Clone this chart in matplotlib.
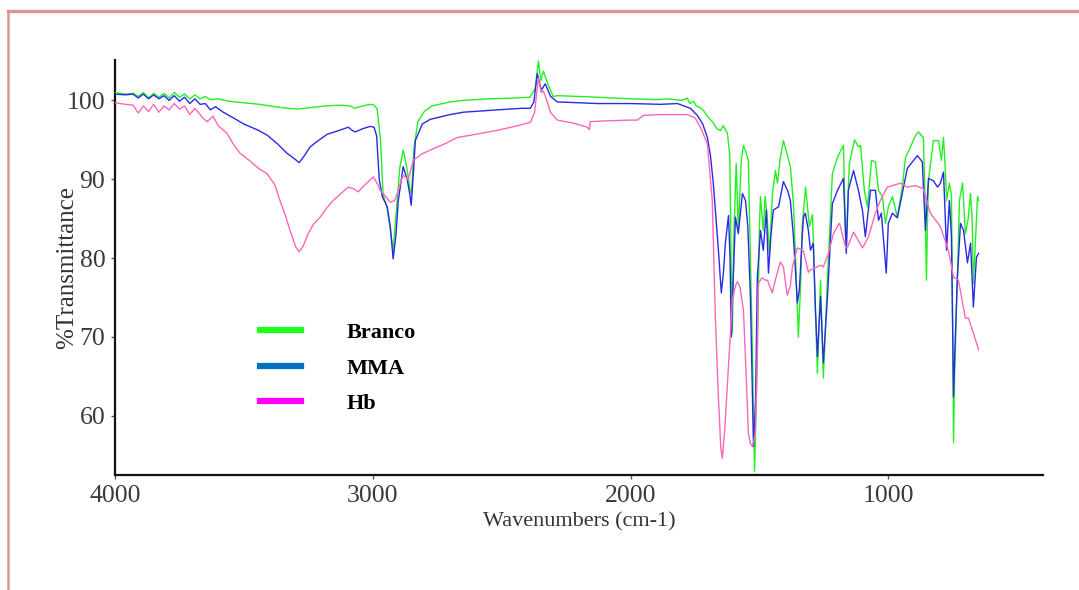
import matplotlib
matplotlib.use("Agg")
import matplotlib.pyplot as plt
from matplotlib.lines import Line2D

# ---------------------------------------------------------------------------
# FTIR spectra (wavenumber cm-1, %T)
# ---------------------------------------------------------------------------

branco_wn = [
    4000, 3960, 3930, 3910, 3890, 3870, 3850, 3830, 3810, 3790, 3770, 3750,
    3730, 3710, 3690, 3670, 3650, 3630, 3600, 3560, 3500, 3440, 3380, 3330,
    3290, 3240, 3180, 3130, 3090, 3070, 3040, 3010, 2995, 2983, 2970, 2960,
    2945, 2930, 2921, 2910, 2895, 2882, 2868, 2855, 2850, 2840, 2825, 2800,
    2770, 2700, 2650, 2550, 2450, 2390, 2370, 2357, 2348, 2338, 2320, 2300,
    2284, 2200, 2129, 2000, 1900, 1857, 1800, 1780, 1770, 1756, 1745, 1730,
    1717, 1700, 1680, 1665, 1651, 1640, 1624, 1615, 1610, 1605, 1600, 1590,
    1582, 1570, 1562, 1550, 1543, 1535, 1527, 1519, 1512, 1508, 1500, 1496,
    1485, 1478, 1472, 1461, 1450, 1438, 1430, 1420, 1407, 1395, 1380, 1368,
    1357, 1349, 1341, 1334, 1321, 1306, 1294, 1283, 1275, 1263, 1252, 1236,
    1217, 1197, 1174, 1166, 1163, 1151, 1131, 1116, 1108, 1093, 1081, 1065,
    1050, 1038, 1023, 1011, 1000, 984, 965, 946, 933, 914, 895, 883, 870,
    864, 858, 852, 848, 844, 825, 805, 794, 786, 780, 774, 763, 755, 750,
    747, 743, 732, 724, 712, 701, 690, 681, 675, 670, 662, 654, 650,
]
branco_t = [
    101.0, 100.8, 100.9, 100.5, 101.0, 100.3, 100.9, 100.4, 100.9, 100.3, 101.0, 100.4,
    100.8, 100.2, 100.7, 100.2, 100.5, 100.1, 100.2, 99.9, 99.7, 99.5, 99.2, 99.0,
    98.9, 99.1, 99.3, 99.4, 99.3, 99.0, 99.3, 99.5, 99.4, 98.9, 95.0, 88.0,
    86.5, 83.0, 81.0, 85.5, 91.5, 93.7, 91.5, 88.5, 88.2, 94.0, 97.3, 98.6,
    99.3, 99.8, 100.0, 100.2, 100.3, 100.4, 101.5, 105.0, 102.5, 103.7, 102.0, 100.5,
    100.6, 100.5, 100.4, 100.2, 100.1, 100.2, 100.0, 100.3, 99.6, 99.9, 99.3, 99.1,
    98.7, 97.9, 97.2, 96.4, 96.2, 96.8, 95.8, 93.0, 80.0, 70.5, 82.0, 92.0,
    83.5, 92.5, 94.3, 93.2, 92.4, 80.0, 68.0, 52.9, 62.0, 68.0, 84.0, 87.8,
    83.5, 87.8, 86.0, 80.6, 88.0, 91.1, 89.5, 92.5, 94.9, 93.5, 91.6, 86.9,
    77.6, 70.0, 76.0, 84.0, 89.0, 84.0, 85.5, 73.4, 65.4, 77.2, 64.8, 77.6,
    90.7, 92.8, 94.3, 83.0, 82.3, 92.0, 95.0, 94.1, 94.3, 88.6, 86.5, 92.4,
    92.2, 88.6, 87.8, 84.4, 86.5, 87.8, 85.2, 89.0, 92.8, 94.1, 95.5, 96.0, 95.5,
    95.3, 88.0, 77.2, 85.0, 89.9, 94.9, 94.9, 92.4, 95.3, 92.0, 87.3, 89.5, 88.0, 70.0,
    56.6, 65.0, 77.6, 87.3, 89.5, 83.1, 85.0, 88.2, 85.0, 76.8, 82.0, 87.8, 87.3,
]

mma_wn = [
    4000, 3960, 3930, 3910, 3890, 3870, 3850, 3830, 3810, 3790, 3770, 3750,
    3730, 3710, 3690, 3670, 3650, 3630, 3610, 3580, 3542, 3500, 3450, 3410,
    3370, 3333, 3300, 3286, 3265, 3243, 3216, 3177, 3130, 3095, 3080, 3068,
    3040, 3010, 2995, 2985, 2975, 2963, 2944, 2932, 2921, 2910, 2901, 2882,
    2866, 2856, 2851, 2842, 2835, 2808, 2777, 2700, 2649, 2517, 2420, 2389,
    2375, 2362, 2346, 2331, 2310, 2284, 2200, 2129, 2000, 1884, 1818, 1768,
    1741, 1720, 1702, 1690, 1679, 1659, 1648, 1640, 1632, 1620, 1614, 1609,
    1603, 1593, 1582, 1566, 1554, 1545, 1535, 1523, 1515, 1508, 1496, 1485,
    1473, 1465, 1455, 1446, 1426, 1407, 1390, 1380, 1368, 1353, 1345, 1334,
    1329, 1322, 1310, 1302, 1291, 1283, 1275, 1263, 1252, 1236, 1217, 1197,
    1174, 1163, 1155, 1135, 1116, 1100, 1089, 1069, 1050, 1038, 1027, 1008,
    1000, 984, 965, 946, 926, 887, 868, 856, 844, 825, 809, 798, 786, 774,
    763, 755, 747, 740, 732, 720, 708, 693, 681, 670, 658, 650,
]
mma_t = [
    100.8, 100.7, 100.8, 100.3, 100.8, 100.2, 100.7, 100.2, 100.6, 100.0, 100.6, 99.9,
    100.4, 99.6, 100.2, 99.5, 99.6, 98.8, 99.2, 98.5, 97.8, 97.0, 96.3, 95.6,
    94.5, 93.3, 92.5, 92.1, 93.0, 94.1, 94.8, 95.7, 96.2, 96.6, 96.2, 96.0,
    96.4, 96.7, 96.6, 95.5, 90.0, 87.8, 86.5, 84.0, 79.9, 83.0, 87.3, 91.6,
    89.9, 88.0, 86.7, 91.0, 94.9, 97.0, 97.6, 98.2, 98.5, 98.8, 99.0, 99.0,
    99.8, 103.4, 101.3, 102.1, 100.5, 99.8, 99.7, 99.6, 99.6, 99.5, 99.6, 99.0,
    98.1, 97.0, 95.3, 93.0, 89.5, 81.0, 75.6, 78.0, 81.9, 85.4, 80.0, 70.0,
    76.0, 85.2, 83.1, 88.2, 87.3, 84.0, 75.1, 56.1, 62.0, 77.6, 83.5, 81.0,
    86.1, 78.1, 83.0, 86.1, 86.5, 89.7, 88.5, 87.3, 82.7, 74.3, 76.0, 82.7,
    85.2, 85.7, 83.5, 81.0, 81.9, 73.8, 67.5, 75.1, 66.7, 75.1, 86.9, 88.6,
    90.1, 80.6, 88.6, 91.1, 88.6, 86.0, 82.7, 88.6, 88.6, 84.8, 85.7, 78.1,
    84.4, 85.7, 85.1, 88.2, 91.4, 93.0, 92.2, 83.5, 90.1, 89.8, 89.0, 89.5, 90.9, 81.0,
    87.3, 82.7, 62.4, 70.0, 77.6, 84.4, 83.5, 79.4, 81.9, 73.8, 80.1, 80.6,
]

hb_wn = [
    4000, 3960, 3930, 3910, 3890, 3870, 3850, 3830, 3810, 3790, 3770, 3750,
    3730, 3710, 3690, 3660, 3643, 3620, 3600, 3565, 3542, 3515, 3476, 3440,
    3410, 3380, 3360, 3340, 3321, 3300, 3286, 3270, 3251, 3230, 3204, 3180,
    3154, 3120, 3095, 3075, 3057, 3030, 2998, 2985, 2971, 2950, 2932, 2915,
    2905, 2890, 2882, 2870, 2863, 2850, 2843, 2810, 2777, 2720, 2672, 2600,
    2517, 2450, 2389, 2372, 2358, 2346, 2338, 2325, 2311, 2284, 2220, 2168,
    2160, 2156, 2100, 2001, 1974, 1950, 1884, 1780, 1750, 1729, 1702, 1683,
    1671, 1660, 1650, 1644, 1635, 1624, 1605, 1593, 1585, 1575, 1562, 1550,
    1543, 1535, 1527, 1516, 1510, 1504, 1490, 1477, 1469, 1450, 1440, 1419,
    1407, 1399, 1392, 1380, 1372, 1353, 1334, 1329, 1310, 1302, 1275, 1263,
    1252, 1232, 1213, 1193, 1189, 1166, 1158, 1135, 1100, 1077, 1050, 1031,
    1004, 953, 926, 895, 864, 837, 798, 767, 747, 728, 701, 689, 670, 650,
]
hb_t = [
    99.7, 99.5, 99.4, 98.4, 99.3, 98.6, 99.5, 98.5, 99.3, 98.8, 99.6, 98.9,
    99.3, 98.2, 99.0, 97.8, 97.3, 98.0, 96.8, 95.8, 94.5, 93.3, 92.3, 91.3,
    90.7, 89.3, 87.3, 85.5, 83.5, 81.5, 80.8, 81.5, 83.1, 84.3, 85.2, 86.3,
    87.3, 88.3, 89.0, 88.8, 88.4, 89.3, 90.3, 89.6, 88.6, 87.8, 87.1, 87.3,
    88.2, 89.8, 90.5, 90.2, 89.9, 91.5, 92.4, 93.2, 93.7, 94.5, 95.3, 95.7,
    96.2, 96.7, 97.2, 98.5, 102.8, 101.0, 101.2, 100.0, 98.5, 97.5, 97.1, 96.6,
    96.3, 97.3, 97.4, 97.5, 97.5, 98.1, 98.2, 98.2, 97.8, 96.6, 94.5, 87.3,
    72.5, 63.0, 56.0, 54.6, 58.0, 64.1, 74.7, 76.5, 77.0, 76.3, 73.4, 64.0,
    57.8, 56.5, 56.1, 57.8, 65.0, 76.8, 77.5, 77.2, 77.2, 75.6, 77.0, 79.5,
    78.9, 77.0, 75.3, 76.5, 78.9, 81.3, 81.0, 80.9, 78.2, 78.5, 78.9, 79.1,
    78.9, 80.6, 83.1, 84.3, 84.4, 81.4, 81.4, 83.3, 81.3, 82.7, 85.7, 87.3,
    89.0, 89.5, 89.0, 89.2, 88.8, 85.7, 84.0, 81.0, 77.6, 77.2, 72.4, 72.4, 70.5, 68.4,
]

series_names = ["Branco", "MMA", "Hb"]
line_colors = ["#22f022", "#2a2ae6", "#ff66b8"]
legend_colors = ["#1eff1e", "#0070c0", "#ff00ff"]

SERIF = ["Liberation Serif", "DejaVu Serif"]
BORDER = "#d99694"

fig = plt.figure(figsize=(10.79, 5.90), dpi=100)
fig.patch.set_facecolor("white")
ax = fig.add_axes([0.1066, 0.195, 0.86, 0.703])

for wn, t, c in zip([branco_wn, mma_wn, hb_wn], [branco_t, mma_t, hb_t], line_colors):
    ax.plot(wn, t, color=c, lw=1.0, zorder=3)

ax.set_xlim(4000, 400)
ax.set_ylim(52.5, 105.1)
ax.set_xticks([4000, 3000, 2000, 1000])
ax.set_yticks([60, 70, 80, 90, 100])

for side in ("top", "right"):
    ax.spines[side].set_visible(False)
for side in ("left", "bottom"):
    ax.spines[side].set_linewidth(1.6)
    ax.spines[side].set_color("#111111")

ax.tick_params(axis="both", direction="out", length=3, width=1, color="#555555",
               labelsize=18.5, labelcolor="#3a3a3a", pad=4)
for lab in ax.get_xticklabels() + ax.get_yticklabels():
    lab.set_family(SERIF)

ax.set_xlabel("Wavenumbers (cm-1)", family=SERIF, fontsize=16, color="#333333", labelpad=4)
ax.set_ylabel("%Transmittance", family=SERIF, fontsize=18, color="#333333", labelpad=-8)

handles = [Line2D([], [], color=c, lw=4.5) for c in legend_colors]
leg = ax.legend(handles, series_names, loc="upper left", bbox_to_anchor=(0.156, 0.368),
                frameon=False, handlelength=1.85, handletextpad=2.05, labelspacing=0.68,
                borderpad=0, borderaxespad=0,
                prop={"family": SERIF, "weight": "bold", "size": 16})

# pink frame around the figure (top and left edges visible)
fig.add_artist(Line2D([8 / 1079, 1.0], [1 - 11 / 590, 1 - 11 / 590],
                      transform=fig.transFigure, color=BORDER, lw=2.4))
fig.add_artist(Line2D([8 / 1079, 8 / 1079], [0.0, 1 - 11 / 590],
                      transform=fig.transFigure, color=BORDER, lw=1.8))

fig.savefig("out.png", dpi=100, facecolor="white")
